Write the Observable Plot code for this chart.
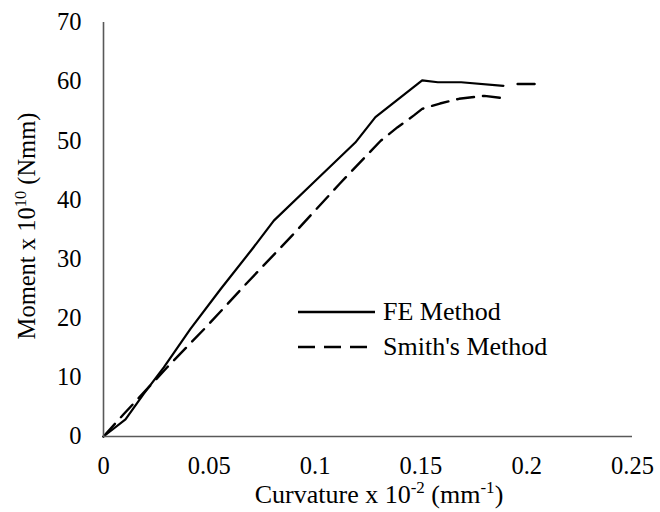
<!DOCTYPE html>
<html>
<head>
<meta charset="utf-8">
<script src="https://cdn.jsdelivr.net/npm/d3@7"></script>
<script src="https://cdn.jsdelivr.net/npm/@observablehq/plot@0.6"></script>
<style>
  html, body { margin: 0; padding: 0; background: #fff; }
  #chart svg { display: block; }
</style>
</head>
<body>
<div id="chart"></div>
<script>
// Series: FE Method (solid)
const feCurvature = [0, 0.0104, 0.019, 0.0285, 0.0411, 0.0553, 0.0703, 0.0805, 0.0994, 0.119, 0.1285, 0.1506, 0.158, 0.169, 0.189];
const feMoment    = [0, 2.9,    7.2,   11.7,   18.2,   24.9,   31.7,   36.5,   43.0,   49.7,  54.0,   60.2,   59.9,  59.9,  59.3];

// Series: Smith's Method (dashed); null marks a break before the last short piece
const smithCurvature = [0, 0.0096, 0.0301, 0.049, 0.0679, 0.0892, 0.1115, 0.131, 0.139, 0.1467, 0.1506, 0.159, 0.168, 0.18, 0.189, 0.193, 0.1957, 0.204];
const smithMoment    = [0, 3.8,    11.7,   18.7,  26.0,   34.0,   42.7,   50.0,  52.3,  54.3,   55.4,   56.3,  57.1,  57.6, 57.2, null, 59.6, 59.6];

const xTicks = [0, 0.05, 0.1, 0.15, 0.2, 0.25];
const yTicks = [0, 10, 20, 30, 40, 50, 60, 70];

const seriesNames = ["FE Method", "Smith's Method"];

const fe = feCurvature.map((c, i) => ({x: c, y: feMoment[i]}));
const smith = smithCurvature.map((c, i) => ({x: c, y: smithMoment[i]}));

const FONT = "'Liberation Serif', 'Times New Roman', serif";
const W = 660, H = 512;

const plot = Plot.plot({
  width: W,
  height: H,
  marginLeft: 103,
  marginRight: 28,
  marginTop: 22,
  marginBottom: 76,
  style: {fontFamily: FONT, fontSize: "24px", color: "#000", background: "#fff"},
  x: {domain: [0, 0.25], label: null},
  y: {domain: [0, 70], label: null},
  marks: [
    Plot.axisX({ticks: xTicks, tickFormat: d => String(d), tickSize: 0, tickPadding: 20, label: null, fontSize: 24.5}),
    Plot.axisY({ticks: yTicks, tickFormat: d => String(d), tickSize: 0, tickPadding: 22, label: null, fontSize: 24.5}),
    Plot.line(smith, {x: "x", y: "y", stroke: "#000", strokeWidth: 2.4, strokeDasharray: "17,9"}),
    Plot.line(fe, {x: "x", y: "y", stroke: "#000", strokeWidth: 2.2}),
    Plot.ruleX([0], {stroke: "#595959", strokeWidth: 1.6}),
    Plot.ruleY([0], {stroke: "#595959", strokeWidth: 1.6})
  ]
});

document.getElementById("chart").appendChild(plot);

const svg = d3.select(plot);

// X axis title with superscripts
const xt = svg.append("text")
  .attr("x", 379).attr("y", 503)
  .attr("text-anchor", "middle")
  .attr("font-family", FONT).attr("font-size", 26).attr("fill", "#000");
xt.append("tspan").text("Curvature x 10");
xt.append("tspan").attr("dy", -10).attr("font-size", 17).text("-2");
xt.append("tspan").attr("dy", 10).text(" (mm");
xt.append("tspan").attr("dy", -10).attr("font-size", 17).text("-1");
xt.append("tspan").attr("dy", 10).text(")");

// Y axis title with superscript
const yt = svg.append("text")
  .attr("transform", "translate(35,226) rotate(-90)")
  .attr("text-anchor", "middle")
  .attr("font-family", FONT).attr("font-size", 24.5).attr("fill", "#000");
yt.append("tspan").text("Moment x 10");
yt.append("tspan").attr("dy", -9).attr("font-size", 16.5).text("10");
yt.append("tspan").attr("dy", 9).text(" (Nmm)");

// Legend
const legend = svg.append("g").attr("text-anchor", "start");
const legY = [312, 347];
const legDash = ["none", "17,9"];
seriesNames.forEach((name, i) => {
  legend.append("line")
    .attr("x1", 298).attr("x2", 375)
    .attr("y1", legY[i]).attr("y2", legY[i])
    .attr("stroke", "#000").attr("stroke-width", 2.4)
    .attr("stroke-dasharray", legDash[i]);
  legend.append("text")
    .attr("x", 383).attr("y", legY[i] + 8)
    .attr("text-anchor", "start")
    .attr("font-family", FONT).attr("font-size", 26).attr("fill", "#000")
    .text(name);
});
</script>
</body>
</html>
